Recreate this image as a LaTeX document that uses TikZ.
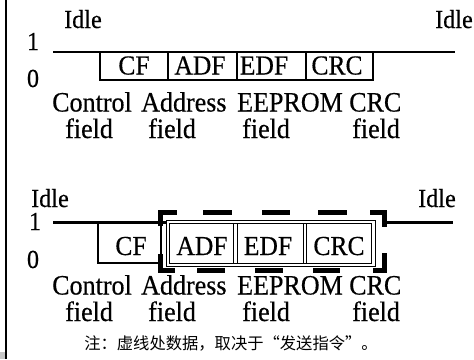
\documentclass[tikz,border=0pt]{standalone}
\usepackage{fontspec}
\setmainfont{Liberation Serif}
\newfontfamily\labfont[FakeStretch=0.93,FakeBold=0.4]{Liberation Serif}
\newfontfamily\cjkfont{Noto Sans CJK SC}
\begin{document}
\begin{tikzpicture}[x=1pt,y=-1pt,
  lbl/.style={inner sep=0pt,anchor=base west,font=\labfont\fontsize{28}{29}\selectfont},
  boxtxt/.style={inner sep=0pt,anchor=base,font=\labfont\fontsize{27.5}{29}\selectfont},
  lvl/.style={inner sep=0pt,anchor=base,font=\labfont\fontsize{26}{27}\selectfont},
  sig/.style={line width=2.1pt},
  thin/.style={line width=1pt},
  brk/.style={line width=4.8pt}]
\useasboundingbox (0,0) rectangle (474,359);
\fill[white] (0,0) rectangle (474,359);
% left border and corner
\draw[line width=2.6pt] (6,0) -- (6,359);
\fill[gray!45] (0,352) rectangle (4.8,359);

% ---------- top diagram ----------
\node[lvl,anchor=base west] (idleA) at (64,28) {Idle};
\node[lvl,anchor=base west] (idleB) at (435,28) {Idle};
\node[lvl] (oneA) at (33,50) {1};
\node[lvl] (zeroA) at (33,87) {0};
\draw[sig] (53,52) -- (455,52);
\draw[sig] (100,52) rectangle (373,80);
\draw[sig] (168,52) -- (168,80);
\draw[sig] (237,52) -- (237,80);
\draw[sig] (306,52) -- (306,80);
\node[boxtxt] (cfA) at (134,74.5) {CF};
\node[boxtxt] (adfA) at (200,74.5) {ADF};
\node[boxtxt] (edfA) at (264,74.5) {EDF};
\node[boxtxt] (crcA) at (337,74.5) {CRC};
\node[lbl] (ctlA) at (52,111.5) {Control};
\node[lbl] (addA) at (141,111.5) {Address};
\node[lbl] (eepA) at (237,111.5) {EEPROM};
\node[lbl] (crclA) at (349,111.5) {CRC};
\node[lbl] (f1A) at (65,138) {field};
\node[lbl] (f2A) at (148,138) {field};
\node[lbl] (f3A) at (242,138) {field};
\node[lbl] (f4A) at (352,138) {field};

% ---------- bottom diagram ----------
\node[lvl,anchor=base west] (idleC) at (31,207) {Idle};
\node[lvl,anchor=base west] (idleD) at (418,207) {Idle};
\node[lvl] (oneB) at (35,230) {1};
\node[lvl] (zeroB) at (33,268) {0};
\draw[sig] (53,222.5) -- (166,222.5);
\draw[sig] (384,222.5) -- (453,222.5);
\draw[sig] (98,222.5) -- (98,263) -- (161,263) -- (161,222.5);
% double box
\draw[thin] (166,220) rectangle (375,266.5);
\draw[thin] (169.5,223.5) rectangle (371.5,263);
\draw[thin] (233.5,223.5) -- (233.5,263);
\draw[thin] (237,223.5) -- (237,263);
\draw[thin] (303,223.5) -- (303,263);
\draw[thin] (306.5,223.5) -- (306.5,263);
\node[boxtxt] (cfB) at (131,255) {CF};
\node[boxtxt] (adfB) at (202,255) {ADF};
\node[boxtxt] (edfB) at (268,255) {EDF};
\node[boxtxt] (crcB) at (339,255) {CRC};
% dashed bracket
\draw[brk] (160.5,226) -- (160.5,212.5) -- (177,212.5);
\draw[brk] (203,212.5) -- (232,212.5);
\draw[brk] (262,212.5) -- (290,212.5);
\draw[brk] (318,212.5) -- (347,212.5);
\draw[brk] (370,212.5) -- (384.5,212.5) -- (384.5,227);
\draw[brk] (160.5,254) -- (160.5,270.5) -- (175,270.5);
\draw[brk] (197,270.5) -- (225,270.5);
\draw[brk] (255,270.5) -- (283,270.5);
\draw[brk] (313,270.5) -- (340,270.5);
\draw[brk] (373,270.5) -- (384.5,270.5) -- (384.5,253);
\node[lbl] (ctlB) at (52,294.5) {Control};
\node[lbl] (addB) at (141,294.5) {Address};
\node[lbl] (eepB) at (237,294.5) {EEPROM};
\node[lbl] (crclB) at (349,294.5) {CRC};
\node[lbl] (f1B) at (65,321) {field};
\node[lbl] (f2B) at (148,321) {field};
\node[lbl] (f3B) at (242,321) {field};
\node[lbl] (f4B) at (352,321) {field};

\node[inner sep=0pt,anchor=base,font=\cjkfont\fontsize{16.3}{18}\selectfont] (note) at (231,349.5) {注：虚线处数据，取决于“发送指令”。};
\end{tikzpicture}
\end{document}
